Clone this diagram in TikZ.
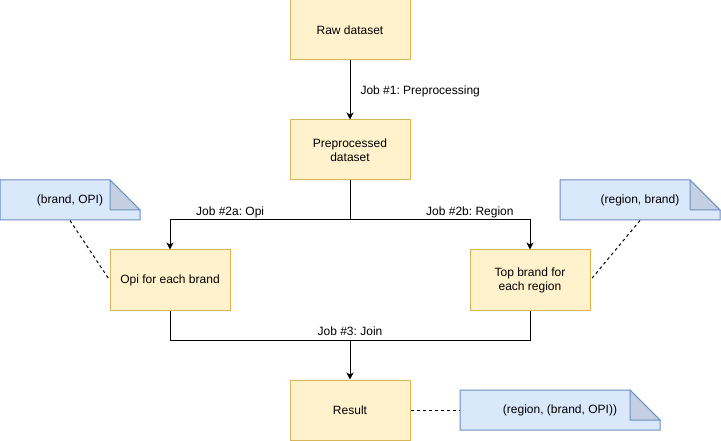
\documentclass[tikz,border=0pt]{standalone}
\usepackage{fontspec}
\setmainfont{Liberation Sans}
\usetikzlibrary{arrows.meta}
\definecolor{boxfill}{HTML}{FFF2CC}
\definecolor{boxline}{HTML}{D6B656}
\definecolor{notefill}{HTML}{DAE8FC}
\definecolor{noteline}{HTML}{6C8EBF}
\definecolor{notefold}{HTML}{C4D0E2}

\tikzset{
  jobbox/.style={draw=boxline,fill=boxfill,minimum width=120pt,minimum height=60pt,inner sep=0pt,align=center},
  notebox/.style={minimum width=#1,minimum height=40pt,inner sep=0pt},
  joblabel/.style={inner sep=0pt,anchor=base,yshift=5pt},
  notelink/.style={dashed}
}
\frenchspacing

\begin{document}
\begin{tikzpicture}[x=1pt,y=-1pt,line width=1pt,font=\fontsize{12}{14}\selectfont,>={Stealth[length=7pt,width=7pt,inset=2pt]}]
		\useasboundingbox (0,0) rectangle (721,441);
		% note shapes (x, y, width)
		\foreach \x/\y/\w in {0/180/140, 560/180/160, 460/390/200}{
			\filldraw[draw=noteline,fill=notefill] (\x,\y) -- (\x+\w-30,\y) -- (\x+\w,\y+30) -- (\x+\w,\y+40) -- (\x,\y+40) -- cycle;
			\filldraw[draw=noteline,fill=notefold] (\x+\w-30,\y) -- (\x+\w-30,\y+30) -- (\x+\w,\y+30) -- cycle;
		}
		% jobs
		\node[jobbox] (raw) at (350,30) {Raw dataset};
		\node[jobbox] (pre) at (350,150) {Preprocessed\\dataset};
		\node[jobbox] (opi) at (170,280) {Opi for each brand};
		\node[jobbox] (top) at (530,280) {Top brand for\\each region};
		\node[jobbox] (res) at (350,410) {Result};
		% notes
		\node[notebox=140pt] (brandnote) at (70,200) {(brand, OPI)};
		\node[notebox=160pt] (regionnote) at (640,200) {(region, brand)};
		\node[notebox=200pt] (resultnote) at (560,410) {(region, (brand, OPI))};
		% jobs connectors
		\coordinate (split) at (350,220);
		\coordinate (join) at (350,340);
		\draw[->] (raw) -- node[inner sep=0pt,anchor=base west,xshift=10pt,yshift=-4.5pt] {Job \#1: Preprocessing} (pre);
		\draw (pre) -- (split);
		\draw[->] (split) -| node[joblabel,pos=0.333] {Job \#2a: Opi} (opi);
		\draw[->] (split) -| node[joblabel,pos=0.333] {Job \#2b: Region} (top);
		\draw (opi) |- (join);
		\draw (top) |- (join);
		\draw[->] (join) -- (res);
		\path (join) node[joblabel] {Job \#3: Join};
		% notes links
		\draw[notelink] (brandnote.south) -- (opi.west);
		\draw[notelink] (regionnote.south) -- (top.east);
		\draw[notelink] (res) -- (resultnote);
\end{tikzpicture}
\end{document}
